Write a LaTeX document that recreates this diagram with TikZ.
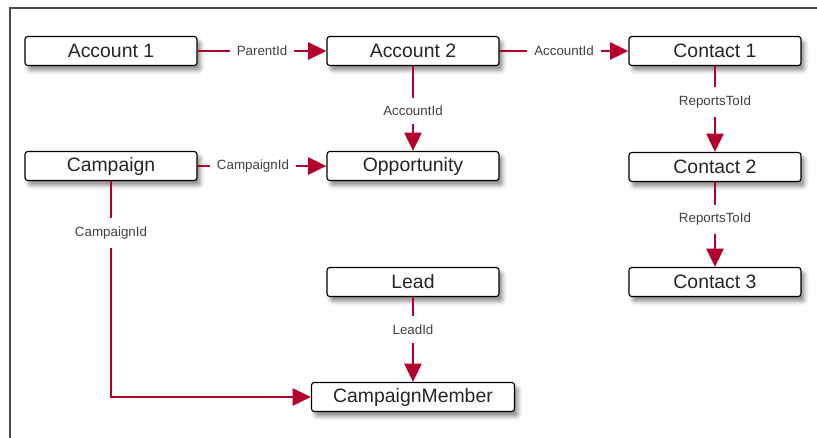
\documentclass[tikz,border=0pt]{standalone}
\usepackage{fontspec}
\setmainfont{Liberation Sans}
\usetikzlibrary{arrows.meta,positioning,shadows.blur}
\definecolor{fkred}{HTML}{B4002A}
\definecolor{frameline}{HTML}{4A4A4A}

\begin{document}
\begin{tikzpicture}[
  x=0.025cm,y=-0.025cm,
  box/.style={draw,rounded corners=2pt,line width=0.8pt,fill=white,minimum width=4.3cm,minimum height=0.725cm,inner sep=0pt,font=\fontsize{13.8}{15}\selectfont,text=black!85,blur shadow={shadow xshift=2.5pt,shadow yshift=-3.5pt,shadow blur radius=3pt,shadow opacity=45}},
  link/.style={draw=fkred,line width=2.1pt,-{Triangle[length=13pt,width=12pt]}},
  lbl/.style={fill=white,inner xsep=5pt,inner ysep=6pt,font=\fontsize{9.5}{10}\selectfont,text=black!75},
]
  \useasboundingbox (0,0) rectangle (817,437);
  \clip (0,0) rectangle (817,437);
  \draw[draw=frameline,line width=1pt] (10,8) rectangle (840,460);

  \node[box] (acc1) at (111,51) {Account 1};
  \node[box] (acc2) at (413,51) {Account 2};
  \node[box] (con1) at (715,51) {Contact 1};
  \node[box] (camp) at (111,166) {Campaign};
  \node[box] (opp) at (413,166) {Opportunity};
  \node[box] (con2) at (715,167) {Contact 2};
  \node[box] (lead) at (413,282) {Lead};
  \node[box] (con3) at (715,282) {Contact 3};
  \node[box,minimum width=5.075cm] (cm) at (413,397) {CampaignMember};

  \draw[link] (acc1) -- node[lbl] {ParentId} (acc2);
  \draw[link] (acc2) -- node[lbl] {AccountId} (con1);
  \draw[link] (acc2) -- node[lbl,pos=0.53] {AccountId} (opp);
  \draw[link] (camp) -- node[lbl,pos=0.43] {CampaignId} (opp);
  \draw[link] (con1) -- node[lbl,pos=0.42] {ReportsToId} (con2);
  \draw[link] (con2) -- node[lbl,pos=0.44] {ReportsToId} (con3);
  \draw[link] (lead) -- node[lbl,pos=0.38] {LeadId} (cm);
  \draw[link] (camp) |- node[lbl,pos=0.12] {CampaignId} (cm);
\end{tikzpicture}
\end{document}
